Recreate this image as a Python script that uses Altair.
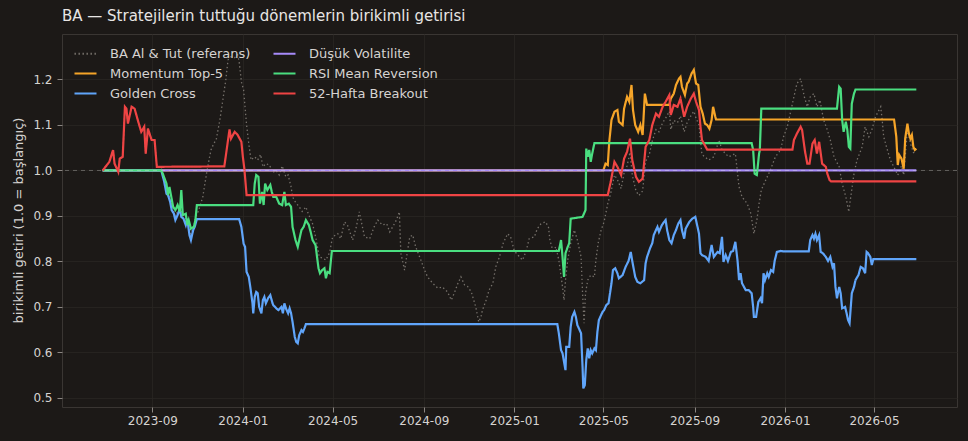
import altair as alt
import pandas as pd

START = "2023-06-26"

SER_BH = "BA Al & Tut (referans)"
SER_MOM = "Momentum Top-5"
SER_GC = "Golden Cross"
SER_LV = "Düşük Volatilite"
SER_RSI = "RSI Mean Reversion"
SER_BRK = "52-Hafta Breakout"

# legend order (column-major, 2 columns)
legend_order = [SER_BH, SER_MOM, SER_GC, SER_LV, SER_RSI, SER_BRK]
legend_colors = ["#77726c", "#f6a529", "#60a5fa", "#a78bfa", "#4ade80", "#ef4444"]
legend_dash = [[1.4, 2.6], [1, 0], [1, 0], [1, 0], [1, 0], [1, 0]]
draw_order = [SER_BH, SER_MOM, SER_GC, SER_LV, SER_RSI, SER_BRK]

x_ticks = ["2023-09", "2024-01", "2024-05", "2024-09", "2025-01",
           "2025-05", "2025-09", "2026-01", "2026-05"]
y_ticks = [0.5, 0.6, 0.7, 0.8, 0.9, 1.0, 1.1, 1.2]
y_domain = [0.48, 1.30]

# days since START
bh_day = [0, 9, 14, 16, 21, 23, 27, 30, 32, 34, 39, 43, 48, 52, 56, 58, 61, 66, 70, 73,
          79, 83, 88, 93, 98, 104, 109, 114, 119, 124, 127, 129, 135, 140, 143, 146, 150,
          153, 158, 162, 166, 169, 173, 178, 182, 184, 187, 190, 194, 197, 200, 205, 209,
          213, 216, 220, 225, 229, 234, 238, 242, 247, 250, 254, 256, 260, 265, 269, 274,
          276, 279, 283, 288, 292, 297, 301, 306, 310, 317, 321, 326, 330, 337, 342, 346,
          353, 360, 366, 371, 377, 383, 387, 391, 396, 400, 402, 407, 414, 418, 422, 429,
          434, 438, 445, 452, 458, 465, 470, 474, 479, 483, 488, 492, 497, 503, 507, 510,
          512, 517, 521, 526, 530, 535, 540, 546, 550, 555, 562, 566, 571, 575, 582, 586,
          591, 597, 601, 603, 607, 611, 615, 620, 622, 624, 627, 631, 636, 640, 645, 647,
          649, 651, 654, 658, 663, 665, 668, 672, 676, 681, 685, 690, 694, 699, 703, 707,
          711, 714, 719, 723, 728, 732, 737, 741, 746, 750, 755, 759, 764, 766, 770, 775,
          779, 784, 788, 793, 797, 800, 804, 806, 808, 817, 824, 831, 835, 844, 853, 856,
          858, 862, 869, 874, 878, 882, 885, 888, 894, 900, 907, 914, 918, 923, 927, 932,
          936, 941, 946, 950, 954, 959, 963, 967, 972, 977, 981, 986, 993, 997, 1002, 1006,
          1008, 1013, 1017, 1024, 1028, 1033, 1037, 1042, 1049, 1051, 1053, 1058, 1062,
          1069, 1072, 1077, 1080, 1085, 1089, 1093, 1097]
bh_val = [1.0, 1.019, 1.045, 1.015, 0.997, 1.026, 1.03, 1.14, 1.136, 1.103, 1.14, 1.136,
          1.107, 1.085, 1.096, 1.037, 1.092, 1.067, 1.067, 1.008,
          1.005, 0.98, 0.955, 0.925, 0.9, 0.92, 0.9, 0.89, 0.86, 0.885, 0.905, 0.91, 0.942,
          0.993, 1.02, 1.045, 1.06, 1.067, 1.111, 1.155, 1.199, 1.243, 1.25, 1.248, 1.254,
          1.239, 1.195, 1.177, 1.1, 1.059, 1.023, 1.03, 1.023, 1.035, 1.008, 1.015, 1.012,
          0.995, 1.0, 0.99, 1.01, 0.986, 0.99, 0.964, 0.942, 0.93, 0.92, 0.91, 0.92, 0.91,
          0.898, 0.883, 0.847, 0.81, 0.807, 0.803, 0.82, 0.854, 0.861, 0.85, 0.887, 0.88,
          0.847, 0.876, 0.909, 0.854, 0.85, 0.876, 0.891, 0.88, 0.883, 0.865, 0.876, 0.891,
          0.909, 0.818, 0.781, 0.854, 0.858, 0.832, 0.803, 0.781, 0.766, 0.752, 0.741,
          0.744, 0.733, 0.715, 0.73, 0.752, 0.766, 0.748, 0.745, 0.733, 0.7, 0.667, 0.678,
          0.693, 0.715, 0.737, 0.752, 0.788, 0.81, 0.84, 0.861, 0.854, 0.823, 0.81, 0.803,
          0.823, 0.85, 0.854, 0.872, 0.883, 0.887, 0.876, 0.847, 0.823, 0.832, 0.803, 0.744,
          0.715, 0.759, 0.803, 0.84, 0.869, 0.847, 0.81, 0.73, 0.664, 0.73, 0.759, 0.77,
          0.766, 0.803, 0.84, 0.869, 0.887, 0.927, 0.95, 0.99, 0.98, 0.96, 0.995, 1.01, 1.04,
          0.99, 0.955, 0.945, 0.955, 1.02, 1.035, 1.065, 1.09, 1.085, 1.105, 1.115, 1.13,
          1.09, 1.11, 1.105, 1.12, 1.085, 1.105, 1.12, 1.13, 1.115, 1.1, 1.065, 1.035, 1.023,
          1.03, 1.067, 1.045, 1.03, 1.037, 0.993, 0.964, 0.942, 0.927, 0.905, 0.861, 0.891,
          0.927, 0.957, 0.979, 1.0, 1.03, 1.045, 1.074, 1.096, 1.125, 1.162, 1.191, 1.202,
          1.162, 1.14, 1.162, 1.169, 1.14, 1.155, 1.111, 1.089, 1.067, 1.03, 1.008, 0.971,
          0.942, 0.909, 0.935, 0.993, 1.023, 1.052, 1.096, 1.074, 1.089, 1.118, 1.14, 1.111,
          1.074, 1.045, 1.023, 1.0, 0.99, 1.01, 0.99, 1.09, 1.06, 1.04, 1.035]

mom_day = [0, 675, 678, 681, 683, 686, 690, 694, 696, 701, 703, 707, 710, 713, 715, 718,
           722, 725, 728, 731, 734, 764, 766, 770, 773, 777, 779, 781, 785, 788, 790, 794,
           797, 800, 803, 806, 809, 812, 815, 818, 821, 823, 826, 827, 1067, 1070, 1072,
           1074, 1077, 1080, 1082, 1085, 1087, 1089, 1091, 1093, 1095, 1097]
mom_val = [1.0, 1.0, 1.015, 1.012, 1.063, 1.111, 1.129, 1.133, 1.107, 1.1, 1.136, 1.162,
           1.151, 1.188, 1.133, 1.1, 1.085, 1.1, 1.078, 1.169, 1.144, 1.144, 1.158, 1.169,
           1.188, 1.202, 1.206, 1.184, 1.166, 1.191, 1.195, 1.213, 1.221, 1.191, 1.188,
           1.14, 1.125, 1.103, 1.1, 1.092, 1.111, 1.14, 1.118, 1.112, 1.112, 1.074, 1.012,
           1.034, 1.026, 1.004, 1.07, 1.103, 1.081, 1.07, 1.078, 1.052, 1.045, 1.048]

gc_day = [0, 79, 83, 86, 88, 91, 93, 96, 98, 101, 104, 106, 109, 112, 114, 117, 119, 122,
          124, 127, 184, 187, 190, 192, 194, 197, 199, 202, 203, 205, 207, 209, 211, 214,
          216, 218, 220, 223, 226, 229, 230, 234, 237, 241, 243, 245, 247, 250, 252, 254,
          256, 259, 261, 263, 265, 268, 270, 272, 274, 613, 615, 618, 620, 624, 625, 629,
          631, 633, 636, 638, 640, 642, 645, 647, 648, 650, 652, 654, 656, 658, 660, 663,
          665, 667, 669, 672, 674, 676, 679, 682, 684, 686, 688, 691, 694, 696, 701, 705,
          709, 712, 714, 718, 721, 725, 730, 732, 734, 738, 741, 743, 746, 748, 750, 754,
          757, 759, 761, 764, 767, 770, 773, 776, 779, 781, 784, 786, 791, 795, 799, 802,
          804, 806, 808, 813, 817, 821, 824, 829, 832, 835, 837, 840, 843, 847, 850, 853,
          856, 858, 860, 862, 867, 871, 875, 877, 878, 881, 884, 887, 889, 891, 893, 896,
          898, 901, 904, 906, 909, 914, 918, 952, 954, 957, 959, 961, 963, 966, 968, 971,
          975, 978, 981, 984, 986, 988, 990, 993, 995, 997, 1001, 1003, 1005, 1007, 1010,
          1013, 1015, 1019, 1022, 1025, 1028, 1030, 1032, 1035, 1037, 1039, 1097]
gc_val = [1.0, 1.0, 0.975, 0.949, 0.946, 0.931, 0.913, 0.905, 0.891, 0.902, 0.916, 0.898,
          0.894, 0.88, 0.894, 0.858, 0.847, 0.869, 0.876, 0.893, 0.893, 0.876, 0.839, 0.832,
          0.777, 0.766, 0.744, 0.708, 0.686, 0.722, 0.733, 0.73, 0.7, 0.686, 0.715, 0.722,
          0.708, 0.719, 0.726, 0.708, 0.704, 0.697, 0.693, 0.7, 0.686, 0.708, 0.697, 0.686,
          0.697, 0.686, 0.667, 0.634, 0.623, 0.62, 0.638, 0.649, 0.645, 0.653, 0.662, 0.662,
          0.642, 0.605, 0.598, 0.561, 0.612, 0.612, 0.656, 0.678, 0.689, 0.678, 0.66, 0.653,
          0.642, 0.568, 0.521, 0.528, 0.583, 0.609, 0.587, 0.605, 0.598, 0.609, 0.605,
          0.645, 0.671, 0.682, 0.689, 0.693, 0.704, 0.708, 0.73, 0.752, 0.781, 0.785, 0.774,
          0.763, 0.77, 0.788, 0.801, 0.821, 0.801, 0.766, 0.755, 0.752, 0.759, 0.796, 0.81,
          0.829, 0.84, 0.858, 0.869, 0.876, 0.865, 0.88, 0.887, 0.891, 0.869, 0.847, 0.84,
          0.858, 0.869, 0.883, 0.891, 0.869, 0.85, 0.872, 0.887, 0.894, 0.898, 0.876, 0.861,
          0.818, 0.814, 0.81, 0.801, 0.836, 0.81, 0.821, 0.818, 0.854, 0.799, 0.814, 0.801,
          0.821, 0.823, 0.843, 0.801, 0.759, 0.774, 0.752, 0.737, 0.737, 0.73, 0.7, 0.678,
          0.678, 0.711, 0.719, 0.708, 0.774, 0.759, 0.774, 0.766, 0.781, 0.777, 0.801, 0.821,
          0.823, 0.822, 0.822, 0.847, 0.858, 0.85, 0.861, 0.847, 0.858, 0.821, 0.818, 0.81,
          0.801, 0.81, 0.788, 0.796, 0.744, 0.719, 0.744, 0.73, 0.697, 0.7, 0.686, 0.671,
          0.664, 0.73, 0.744, 0.759, 0.77, 0.788, 0.785, 0.774, 0.821, 0.818, 0.81, 0.792,
          0.805, 0.805]

lv_day = [0, 1097]
lv_val = [1.0, 1.0]

rsi_day = [0, 79, 81, 86, 88, 90, 95, 98, 101, 104, 106, 108, 112, 114, 116, 119, 123, 125,
           127, 203, 205, 207, 210, 212, 215, 217, 219, 222, 226, 228, 230, 234, 238, 242,
           245, 247, 251, 254, 256, 260, 263, 265, 268, 271, 274, 278, 281, 283, 287, 289,
           291, 293, 296, 299, 301, 303, 306, 309, 615, 618, 620, 622, 624, 627, 629, 631,
           647, 651, 652, 654, 656, 658, 660, 663, 875, 877, 879, 882, 885, 886, 888, 990,
           993, 995, 997, 999, 1002, 1004, 1006, 1008, 1010, 1013, 1015, 1097]
rsi_val = [1.0, 1.0, 0.993, 0.971, 0.946, 0.964, 0.92, 0.913, 0.924, 0.909, 0.957, 0.902,
           0.905, 0.88, 0.891, 0.872, 0.876, 0.891, 0.924, 0.924, 0.971, 0.99, 0.986, 0.927,
           0.953, 0.924, 0.971, 0.957, 0.968, 0.953, 0.942, 0.942, 0.927, 0.924, 0.953, 0.924,
           0.927, 0.92, 0.876, 0.847, 0.832, 0.847, 0.869, 0.876, 0.891, 0.88, 0.861, 0.847,
           0.836, 0.81, 0.785, 0.774, 0.781, 0.785, 0.763, 0.777, 0.774, 0.823, 0.823, 0.847,
           0.81, 0.766, 0.818, 0.832, 0.84, 0.894, 0.898, 0.913, 1.048, 1.03, 1.045, 1.019,
           1.037, 1.06, 1.06, 1.045, 0.993, 0.99, 1.037, 1.045, 1.136, 1.136, 1.184, 1.18,
           1.111, 1.085, 1.107, 1.089, 1.052, 1.048, 1.147, 1.169, 1.178, 1.178]

brk_day = [0, 9, 14, 16, 21, 23, 27, 30, 32, 34, 39, 43, 48, 52, 56, 58, 61, 66, 70, 73,
           164, 171, 173, 178, 182, 187, 189, 191, 194, 681, 685, 690, 694, 699, 703, 707,
           711, 714, 719, 723, 728, 732, 737, 741, 746, 750, 755, 759, 764, 766, 770, 775,
           779, 784, 788, 793, 797, 800, 804, 806, 808, 815, 930, 932, 936, 941, 943, 947,
           950, 953, 957, 960, 963, 966, 970, 975, 977, 980, 982, 1097]
brk_val = [1.0, 1.019, 1.045, 1.015, 0.997, 1.026, 1.03, 1.14, 1.136, 1.103, 1.14, 1.136,
           1.107, 1.085, 1.096, 1.037, 1.092, 1.067, 1.067, 1.008, 1.009, 1.09, 1.07, 1.085,
           1.078, 1.063, 1.03, 1.004, 0.946, 0.946, 0.975, 1.019, 1.008, 0.99, 1.026, 1.041,
           1.07, 1.023, 0.986, 0.975, 0.982, 1.052, 1.067, 1.1, 1.125, 1.118, 1.14, 1.151,
           1.166, 1.122, 1.144, 1.14, 1.158, 1.118, 1.14, 1.158, 1.169, 1.151, 1.133, 1.096,
           1.067, 1.046, 1.046, 1.067, 1.081, 1.096, 1.089, 1.041, 1.015, 1.015, 1.059,
           1.067, 1.037, 1.063, 1.015, 1.008, 0.993, 0.979, 0.976, 0.976]

series_data = {
    SER_BH: (bh_day, bh_val),
    SER_MOM: (mom_day, mom_val),
    SER_GC: (gc_day, gc_val),
    SER_LV: (lv_day, lv_val),
    SER_RSI: (rsi_day, rsi_val),
    SER_BRK: (brk_day, brk_val),
}

start = pd.Timestamp(START)


def frame(name):
    days, vals = series_data[name]
    return pd.DataFrame({
        "date": start + pd.to_timedelta(days, unit="D"),
        "value": vals,
        "series": name,
    })


all_days = [d for d, _ in series_data.values()]
first = start + pd.Timedelta(days=min(min(d) for d in all_days))
last = start + pd.Timedelta(days=max(max(d) for d in all_days))
span = last - first
d0 = first - span * 0.05
d1 = last + span * 0.05


def dt(ts):
    return alt.DateTime(year=ts.year, month=ts.month, date=ts.day,
                        hours=ts.hour, minutes=ts.minute)


FONT = "DejaVu Sans"
TXT = "#d6d3d1"

x_enc = alt.X(
    "date:T",
    scale=alt.Scale(domain=[dt(d0), dt(d1)]),
    axis=alt.Axis(
        title=None,
        values=[dt(pd.Timestamp(t + "-01")) for t in x_ticks],
        format="%Y-%m",
        labelFontSize=12,
        labelPadding=3,
        tickSize=5,
    ),
)
y_enc = alt.Y(
    "value:Q",
    scale=alt.Scale(domain=y_domain, nice=False, zero=False),
    axis=alt.Axis(
        title="birikimli getiri (1.0 = başlangıç)",
        values=y_ticks,
        format=".1f",
        labelFontSize=12,
        labelPadding=5,
        tickSize=5,
        titleFontSize=13,
        titleFontWeight="normal",
        titleX=-44,
        titleY=186,
        titleAngle=270,
        titleBaseline="middle",
        titleAlign="center",
    ),
)


def make_legend():
    return alt.Legend(
        title=None,
        orient="none",
        legendX=11,
        legendY=7,
        columns=2,
        columnPadding=18,
        rowPadding=-2,
        symbolType="stroke",
        symbolSize=484,
        symbolStrokeWidth=2.2,
        labelFont=FONT,
        labelFontSize=13,
        labelColor=TXT,
        labelOffset=12,
        padding=0,
    )


color_enc = alt.Color(
    "series:N",
    scale=alt.Scale(domain=legend_order, range=legend_colors),
    legend=make_legend(),
)
dash_enc = alt.StrokeDash(
    "series:N",
    scale=alt.Scale(domain=legend_order, range=legend_dash),
    legend=make_legend(),
)

layers = []
for name in draw_order:
    width = 1.3 if name == SER_BH else 2.2
    layers.append(
        alt.Chart(frame(name))
        .mark_line(strokeWidth=width, interpolate="linear", strokeCap="butt")
        .encode(x=x_enc, y=y_enc, color=color_enc, strokeDash=dash_enc)
    )

ref = (
    alt.Chart(pd.DataFrame({"value": [1.0]}))
    .mark_rule(strokeDash=[4, 4], color="#e7e5e4", opacity=0.4, strokeWidth=0.8)
    .encode(y=alt.Y("value:Q"))
)
layers.append(ref)

chart = (
    alt.layer(*layers)
    .properties(
        width=895,
        height=373,
        title=alt.TitleParams(
            "BA — Stratejilerin tuttuğu dönemlerin birikimli getirisi",
            anchor="start",
            frame="group",
            font=FONT,
            fontSize=15,
            fontWeight="normal",
            color="#e7e5e4",
            offset=10,
        ),
        autosize=alt.AutoSizeParams(type="none"),
        padding={"left": 62, "top": 34, "right": 11, "bottom": 34},
        background="#1c1917",
    )
    .configure_view(stroke="#3a3633", strokeWidth=1)
    .configure_axis(
        labelFont=FONT,
        titleFont=FONT,
        labelColor=TXT,
        titleColor=TXT,
        tickColor="#a8a29e",
        tickWidth=0.8,
        gridColor="#2a2623",
        gridWidth=0.8,
        domain=False,
    )
)

chart.save("out.html", embed_options={"renderer": "svg", "actions": False})
